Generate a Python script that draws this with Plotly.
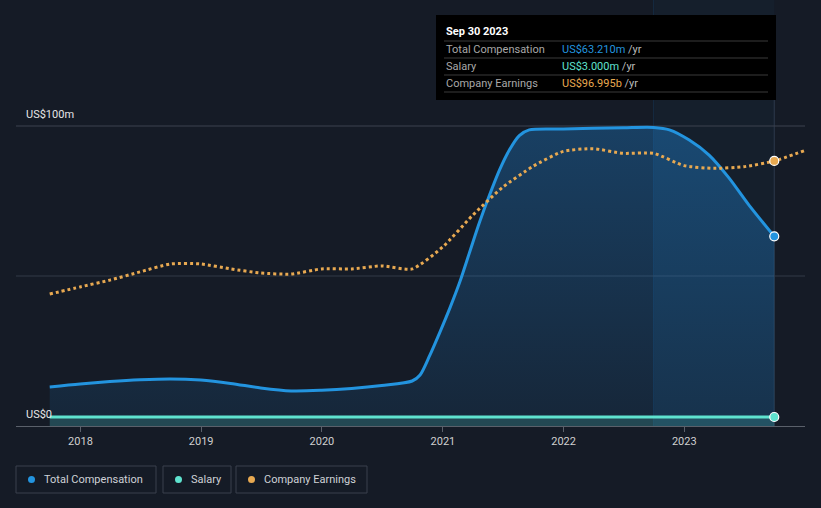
import plotly.graph_objects as go

# ---- data ----
comp_dates = ["2017-09-30","2017-12-31","2018-03-31","2018-06-30","2018-09-30","2018-12-31",
              "2019-03-31","2019-06-30","2019-09-30","2019-12-31","2020-03-31","2020-06-30",
              "2020-09-30","2020-10-24","2020-11-23","2020-12-23","2021-01-22","2021-02-21",
              "2021-03-23","2021-04-22","2021-05-22","2021-06-21","2021-07-21","2021-08-20",
              "2021-09-19","2021-12-31","2022-06-30","2022-09-30","2022-11-17","2023-01-16",
              "2023-03-17","2023-05-16","2023-07-15","2023-09-30"]
total_comp = [13.0,14.0,14.8,15.4,15.7,15.3,14.2,12.7,11.7,11.9,12.5,13.5,
              15.0,17.0,23.7,31.3,39.3,48.0,58.0,68.0,77.0,85.3,92.0,96.8,
              98.7,99.0,99.4,99.5,98.7,95.3,90.3,82.7,73.7,63.21]

sal_dates = ["2017-09-30","2018-09-30","2019-09-30","2020-09-30","2021-09-30","2022-09-30","2023-09-30"]
salary = [3.0,3.0,3.0,3.0,3.0,3.0,3.0]

earn_dates = ["2017-09-30","2017-12-31","2018-03-31","2018-06-30","2018-09-30","2018-12-31",
              "2019-03-31","2019-06-30","2019-09-30","2019-12-31","2020-03-31","2020-06-30",
              "2020-09-30","2020-12-31","2021-03-31","2021-06-30","2021-09-30","2021-12-31",
              "2022-03-31","2022-06-30","2022-09-30","2022-12-31","2023-03-31","2023-06-30",
              "2023-09-30","2023-12-31"]
earnings = [48.3,50.9,53.4,56.4,59.3,59.3,57.5,56.0,55.6,57.5,57.5,58.6,
            57.5,65.5,77.0,87.3,95.0,100.5,101.5,99.8,99.8,95.3,94.3,94.9,97.0,100.8]
earn_latest = 97.0

highlight_start = "2022-09-30"

y_ticks = [0, 100]
y_tick_labels = ["US$0", "US$100m"]
x_ticks = ["2018-01-01","2019-01-01","2020-01-01","2021-01-01","2022-01-01","2023-01-01"]
x_tick_labels = ["2018","2019","2020","2021","2022","2023"]

C_COMP = "#2394df"
C_SAL = "#5fe3cf"
C_EARN = "#e8a951"
BG = "#151b26"

W, H = 821, 508
L, R, T, B = 16, 16, 0, 82
PW, PH = W - L - R, H - T - B

def px(x):  # pixel -> paper x
    return (x - L) / PW

def py(y):  # pixel -> paper y
    return (H - B - y) / PH

fig = go.Figure()

# extra fill for the highlighted last year
hi_idx = comp_dates.index(highlight_start)
fig.add_trace(go.Scatter(x=comp_dates[hi_idx:], y=total_comp[hi_idx:], mode="lines",
                         line=dict(width=0, shape="spline", smoothing=0.8),
                         fill="tozeroy", fillcolor="rgba(33,150,243,0.08)", showlegend=False,
                         hoverinfo="skip"))
fig.add_trace(go.Scatter(x=comp_dates, y=total_comp, mode="lines",
                         line=dict(color=C_COMP, width=3, shape="spline", smoothing=0.8),
                         fill="tozeroy",
                         fillgradient=dict(type="vertical", start=0, stop=100,
                                           colorscale=[[0, "rgba(33,150,243,0.09)"],
                                                       [1, "rgba(33,150,243,0.30)"]]),
                         showlegend=False, hoverinfo="skip"))
fig.add_trace(go.Scatter(x=sal_dates, y=salary, mode="lines", line=dict(color=C_SAL, width=3),
                         fill="tozeroy", fillcolor="rgba(95,227,207,0.18)", showlegend=False,
                         hoverinfo="skip"))
fig.add_trace(go.Scatter(x=earn_dates, y=earnings, mode="lines", yaxis="y2",
                         line=dict(color=C_EARN, width=3, dash="dot", shape="spline", smoothing=0.6),
                         showlegend=False, hoverinfo="skip"))
# end markers
fig.add_trace(go.Scatter(x=[comp_dates[-1]], y=[total_comp[-1]], mode="markers",
                         marker=dict(color=C_COMP, size=9, line=dict(color="white", width=1.2)),
                         showlegend=False, hoverinfo="skip"))
fig.add_trace(go.Scatter(x=[sal_dates[-1]], y=[salary[-1]], mode="markers",
                         marker=dict(color=C_SAL, size=9, line=dict(color="white", width=1.2)),
                         showlegend=False, hoverinfo="skip"))
fig.add_trace(go.Scatter(x=[comp_dates[-1]], y=[earn_latest], mode="markers", yaxis="y2",
                         marker=dict(color=C_EARN, size=9, line=dict(color="white", width=1.2)),
                         showlegend=False, hoverinfo="skip"))

shapes = []
# highlight last year
shapes.append(dict(type="rect", xref="x", yref="paper", x0=highlight_start, x1=comp_dates[-1],
                   y0=0, y1=1, fillcolor="rgba(33,150,243,0.03)", line=dict(width=0), layer="below"))
shapes.append(dict(type="line", xref="x", yref="paper", x0=highlight_start, x1=highlight_start,
                   y0=0, y1=1, line=dict(color="rgba(33,150,243,0.12)", width=1), layer="below"))
# hover line
shapes.append(dict(type="line", xref="x", yref="paper", x0=comp_dates[-1], x1=comp_dates[-1],
                   y0=0, y1=py(100), line=dict(color="#2c3a4c", width=1), layer="below"))
# gridlines
for v, c in [(50, "#333a46"), (100, "#3d434e")]:
    shapes.append(dict(type="line", xref="paper", yref="y", x0=0, x1=1, y0=v, y1=v,
                       line=dict(color=c, width=1), layer="below"))
# tooltip box
shapes.append(dict(type="rect", xref="paper", yref="paper", x0=px(436), x1=px(776),
                   y0=py(100), y1=py(15), fillcolor="#000000", line=dict(width=0)))
for yy in [41, 58, 75, 92]:
    shapes.append(dict(type="line", xref="paper", yref="paper", x0=px(444), x1=px(768),
                       y0=py(yy), y1=py(yy), line=dict(color="#3a3a3a", width=1)))

annotations = []
for v, t in zip(y_ticks, y_tick_labels):
    annotations.append(dict(xref="paper", yref="y", x=px(24), y=v, yshift=3, text=t, showarrow=False,
                            xanchor="left", yanchor="bottom", font=dict(color="#e6e6e6", size=11)))

annotations.append(dict(xref="paper", yref="paper", x=px(444), y=py(31), text="<b>Sep 30 2023</b>",
                        showarrow=False, xanchor="left", yanchor="middle",
                        font=dict(color="white", size=11)))
rows = [("Total Compensation", "US$63.210m", C_COMP, 49),
        ("Salary", "US$3.000m", C_SAL, 66),
        ("Company Earnings", "US$96.995b", C_EARN, 84)]
for lab, val, col, yy in rows:
    annotations.append(dict(xref="paper", yref="paper", x=px(444), y=py(yy), text=lab,
                            showarrow=False, xanchor="left", yanchor="middle",
                            font=dict(color="#a8a8a8", size=11)))
    annotations.append(dict(xref="paper", yref="paper", x=px(560), y=py(yy),
                            text=f'<span style="color:{col}">{val}</span> <span style="color:#bbbbbb">/yr</span>',
                            showarrow=False, xanchor="left", yanchor="middle", font=dict(size=11)))

# legend boxes
legend_items = [("Total Compensation", C_COMP, 16, 156), ("Salary", C_SAL, 163, 231),
                ("Company Earnings", C_EARN, 236, 367)]
for lab, col, x0, x1 in legend_items:
    shapes.append(dict(type="rect", xref="paper", yref="paper", x0=px(x0), x1=px(x1),
                       y0=py(493), y1=py(466), fillcolor="rgba(0,0,0,0)",
                       line=dict(color="#3b414c", width=1)))
    shapes.append(dict(type="circle", xref="paper", yref="paper", x0=px(x0 + 12), x1=px(x0 + 19),
                       y0=py(483), y1=py(476), fillcolor=col, line=dict(width=0)))
    annotations.append(dict(xref="paper", yref="paper", x=px(x0 + 26), y=py(479.5), text=lab,
                            showarrow=False, xanchor="left", yanchor="middle",
                            font=dict(color="#cfd2d6", size=11)))

fig.update_layout(
    width=W, height=H, margin=dict(l=L, r=R, t=T, b=B),
    paper_bgcolor=BG, plot_bgcolor=BG,
    font=dict(family="Roboto, Open Sans, sans-serif", color="#cccccc", size=11),
    xaxis=dict(range=["2017-06-20", "2024-01-01"], tickvals=x_ticks, ticktext=x_tick_labels,
               showgrid=False, zeroline=False, showline=True, linecolor="#5a606a",
               ticks="outside", ticklen=5, tickcolor="#5a606a",
               tickfont=dict(color="#d0d0d0", size=11)),
    yaxis=dict(range=[0, 142], showgrid=False, zeroline=False, showticklabels=False, fixedrange=True),
    yaxis2=dict(range=[0, 109.8 * 142 / 100], overlaying="y", visible=False),
    shapes=shapes, annotations=annotations, showlegend=False,
)

fig.write_html("out.html")
